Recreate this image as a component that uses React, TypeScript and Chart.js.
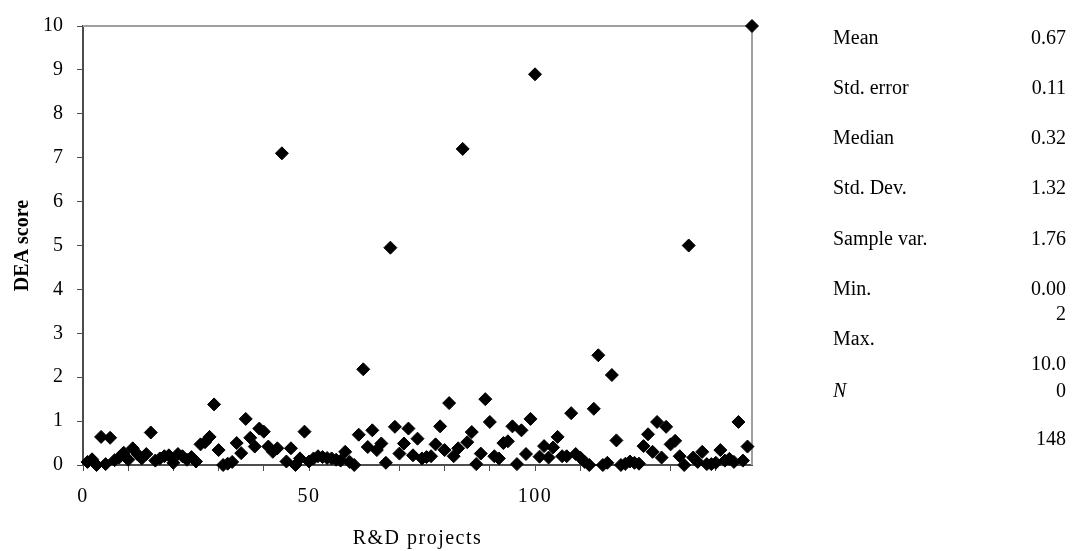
import React, { useEffect, useRef } from "react";
import { Chart, registerables } from "chart.js";

Chart.register(...registerables);

// DEA score of each R&D project (project number = position + 1)
const deaScores: number[] = [
  0.07, 0.13, 0.0, 0.64, 0.02, 0.62, 0.11, 0.17, 0.28, 0.12,
  0.38, 0.25, 0.15, 0.25, 0.74, 0.1, 0.15, 0.2, 0.22, 0.05,
  0.25, 0.2, 0.12, 0.18, 0.08, 0.47, 0.52, 0.64, 1.38, 0.34,
  0.0, 0.03, 0.07, 0.5, 0.27, 1.05, 0.62, 0.42, 0.83, 0.76,
  0.42, 0.3, 0.38, 7.1, 0.08, 0.38, 0.0, 0.15, 0.76, 0.08,
  0.15, 0.2, 0.18, 0.16, 0.15, 0.12, 0.1, 0.3, 0.07, 0.0,
  0.69, 2.18, 0.41, 0.79, 0.34, 0.49, 0.05, 4.95, 0.87, 0.26,
  0.49, 0.83, 0.22, 0.6, 0.15, 0.18, 0.2, 0.47, 0.88, 0.34,
  1.41, 0.2, 0.38, 7.2, 0.52, 0.75, 0.02, 0.26, 1.5, 0.98,
  0.2, 0.15, 0.5, 0.54, 0.88, 0.02, 0.79, 0.25, 1.05, 8.9,
  0.19, 0.43, 0.17, 0.4, 0.64, 0.2, 0.2, 1.18, 0.25, 0.17,
  0.07, 0.0, 1.28, 2.5, 0.0, 0.05, 2.05, 0.56, 0.0, 0.03,
  0.08, 0.05, 0.03, 0.43, 0.7, 0.3, 0.98, 0.17, 0.87, 0.47,
  0.55, 0.2, 0.0, 5.0, 0.17, 0.07, 0.3, 0.02, 0.02, 0.05,
  0.34, 0.1, 0.14, 0.07, 0.98, 0.1, 0.42, 10.0,
];

const xLabeledTicks: number[] = [0, 50, 100];
const xAxisTitle = "R&D projects";
const yAxisTitle = "DEA score";

// Summary statistics panel (as laid out in the source, with wrapped values)
const statLabels: { text: string; y: number; italic?: boolean }[] = [
  { text: "Mean", y: 37 },
  { text: "Std. error", y: 87 },
  { text: "Median", y: 137 },
  { text: "Std. Dev.", y: 187 },
  { text: "Sample var.", y: 238 },
  { text: "Min.", y: 288 },
  { text: "Max.", y: 338 },
  { text: "N", y: 390, italic: true },
];
const statValues: { text: string; y: number }[] = [
  { text: "0.67", y: 37 },
  { text: "0.11", y: 87 },
  { text: "0.32", y: 137 },
  { text: "1.32", y: 187 },
  { text: "1.76", y: 238 },
  { text: "0.00", y: 288 },
  { text: "2", y: 313 },
  { text: "10.0", y: 363 },
  { text: "0", y: 390 },
  { text: "148", y: 438 },
];

const FONT = '"Liberation Serif", "Times New Roman", serif';

const framePlugin = {
  id: "frame",
  beforeDatasetsDraw(chart: any) {
    const { ctx, chartArea } = chart;
    const { left, right, top, bottom } = chartArea;
    ctx.save();
    ctx.strokeStyle = "#a0a0a0";
    ctx.lineWidth = 2;
    ctx.beginPath();
    ctx.moveTo(left, top);
    ctx.lineTo(right, top);
    ctx.lineTo(right, bottom);
    ctx.stroke();
    ctx.restore();
  },
};

// The source's x-axis text is slightly letter-spaced
const xSpacingPlugin = {
  id: "xSpacing",
  afterLayout(chart: any) {
    const sc: any = chart.scales.x;
    if (!sc || sc.__spaced) return;
    sc.__spaced = true;
    const wrap = (name: string) => {
      const orig = sc[name].bind(sc);
      sc[name] = (...args: any[]) => {
        const ctx: any = chart.ctx;
        const prev = ctx.letterSpacing;
        ctx.letterSpacing = "1.5px";
        orig(...args);
        ctx.letterSpacing = prev || "0px";
      };
    };
    wrap("drawLabels");
    wrap("drawTitle");
  },
};

export default function App() {
  const canvasRef = useRef<HTMLCanvasElement | null>(null);

  useEffect(() => {
    if (!canvasRef.current) return;
    const points = deaScores.map((v, i) => ({ x: i + 1, y: v }));
    const chart = new Chart(canvasRef.current, {
      type: "scatter",
      data: {
        datasets: [
          {
            data: points,
            pointStyle: "rectRot",
            pointRadius: 6.5,
            pointHoverRadius: 6.5,
            backgroundColor: "#000000",
            borderColor: "#000000",
            borderWidth: 1,
            clip: false as any,
          },
        ],
      },
      options: {
        animation: false,
        responsive: false,
        devicePixelRatio: 1,
        layout: { padding: { left: 0, right: 320, top: 22, bottom: 0 } },
        plugins: {
          legend: { display: false },
          tooltip: { enabled: false },
        },
        scales: {
          x: {
            type: "linear",
            min: 0,
            max: deaScores.length,
            afterFit: (scale: any) => {
              scale.height = 86;
            },
            ticks: {
              stepSize: 10,
              includeBounds: false,
              autoSkip: false,
              maxRotation: 0,
              padding: 14,
              color: "#000000",
              font: { family: FONT, size: 20 },
              callback: (v: any) => (xLabeledTicks.includes(Number(v)) ? String(v) : ""),
            },
            grid: {
              drawOnChartArea: false,
              drawTicks: true,
              tickLength: 6,
              color: "#4d4d4d",
              lineWidth: 1,
            },
            border: { display: true, color: "#4d4d4d", width: 2 },
            title: {
              display: true,
              text: xAxisTitle,
              color: "#000000",
              font: { family: FONT, size: 20, lineHeight: 1.2 },
              padding: { top: 0, bottom: 0 },
            },
          },
          y: {
            type: "linear",
            min: 0,
            max: 10,
            afterFit: (scale: any) => {
              scale.width = 83;
            },
            ticks: {
              stepSize: 1,
              padding: 14,
              color: "#000000",
              font: { family: FONT, size: 20 },
            },
            grid: {
              drawOnChartArea: false,
              drawTicks: true,
              tickLength: 6,
              color: "#4d4d4d",
              lineWidth: 1,
            },
            border: { display: true, color: "#4d4d4d", width: 2 },
            title: {
              display: true,
              text: yAxisTitle,
              color: "#000000",
              font: { family: FONT, size: 20, weight: "bold", lineHeight: 1.2 },
              padding: { top: 11, bottom: 0 },
            },
          },
        },
      },
      plugins: [framePlugin, xSpacingPlugin],
    });
    return () => chart.destroy();
  }, []);

  const textBase: React.CSSProperties = {
    position: "absolute",
    fontFamily: FONT,
    fontSize: 20,
    lineHeight: "24px",
    height: 24,
    color: "#000",
    whiteSpace: "nowrap",
  };

  return (
    <div style={{ position: "absolute", left: 0, top: 0, width: 1072, height: 551, background: "#fff" }}>
      <canvas ref={canvasRef} width={1072} height={551} style={{ position: "absolute", left: 0, top: 0 }} />
      {statLabels.map((s, i) => (
        <div key={"l" + i} style={{ ...textBase, left: 833, top: s.y - 12, fontStyle: s.italic ? "italic" : "normal" }}>
          {s.text}
        </div>
      ))}
      {statValues.map((s, i) => (
        <div key={"v" + i} style={{ ...textBase, right: 1072 - 1066, top: s.y - 12, textAlign: "right" }}>
          {s.text}
        </div>
      ))}
    </div>
  );
}
